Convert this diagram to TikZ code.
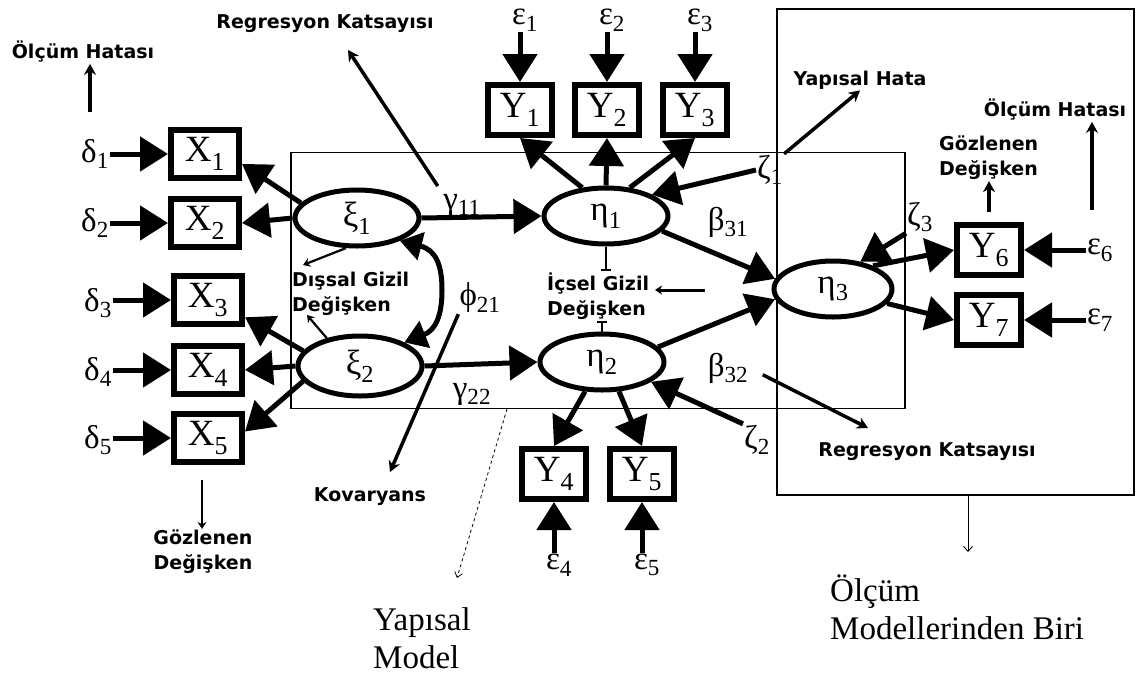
\documentclass[tikz,border=0pt]{standalone}
\usepackage{fontspec}
\setmainfont{Liberation Serif}
\newfontfamily\lblfont{DejaVu Sans}
\usetikzlibrary{arrows.meta,shapes.geometric,calc}
\begin{document}
\begin{tikzpicture}[x=1pt,y=-1pt,
  frame/.style={draw, line width=1.2pt, inner sep=0pt},
  obsx/.style={draw, line width=6pt, fill=white, minimum width=68pt, minimum height=48pt, inner sep=0pt, font=\fontsize{37}{38}\selectfont},
  obsy/.style={obsx, minimum width=64pt, minimum height=50pt},
  lat/.style={ellipse, draw, line width=5pt, fill=white, minimum width=124pt, minimum height=56pt, inner sep=0pt, font=\fontsize{35}{36}\selectfont},
  grk/.style={inner sep=1pt, font=\fontsize{33}{34}\selectfont},
  lbl/.style={font=\lblfont\bfseries\fontsize{19}{25}\selectfont, align=left, inner sep=1pt},
  serif/.style={font=\fontsize{33}{38}\selectfont, align=left, inner sep=0pt},
  big/.style={line width=5pt, -{Triangle[length=28pt,width=34pt]}},
  med/.style={line width=3.5pt, -{Stealth[length=11pt,width=12pt]}},
  sml/.style={line width=2.2pt, -{Stealth[length=7pt,width=9pt]}},
  tbar/.style={line width=2pt, -{Bar[width=10pt]}},
  dsh/.style={line width=0.8pt, dashed, -{Straight Barb[length=5pt,width=8pt]}},
  thn/.style={line width=0.9pt, -{Straight Barb[length=5pt,width=9pt]}},
]
\useasboundingbox (0,0) rectangle (1136,678);

% frames
\node[frame, minimum width=614pt, minimum height=256pt] (sbox) at (598,280.5) {};
\node[frame, minimum width=357pt, minimum height=486pt] (mbox) at (955.5,252) {};

% observed X
\node[obsx] (X1) at (205,154) {X\textsubscript{1}};
\node[obsx] (X2) at (205,223) {X\textsubscript{2}};
\node[obsx] (X3) at (208,300) {X\textsubscript{3}};
\node[obsx] (X4) at (208,370) {X\textsubscript{4}};
\node[obsx] (X5) at (208,438) {X\textsubscript{5}};
% observed Y
\node[obsy] (Y1) at (520,110) {Y\textsubscript{1}};
\node[obsy] (Y2) at (607,110) {Y\textsubscript{2}};
\node[obsy] (Y3) at (695,110) {Y\textsubscript{3}};
\node[obsy] (Y4) at (554,474) {Y\textsubscript{4}};
\node[obsy] (Y5) at (642,474) {Y\textsubscript{5}};
\node[obsy] (Y6) at (989,250) {Y\textsubscript{6}};
\node[obsy] (Y7) at (989,320) {Y\textsubscript{7}};

% latent
\node[lat] (xi1) at (357,218) {ξ\textsubscript{1}};
\node[lat, minimum height=60pt] (xi2) at (360,366) {ξ\textsubscript{2}};
\node[lat] (eta1) at (606,216) {η\textsubscript{1}};
\node[lat] (eta2) at (602,362) {η\textsubscript{2}};
\node[lat, minimum width=118pt] (eta3) at (833,289) {η\textsubscript{3}};

% error terms
\node[grk] (d1) at (95,154) {δ\textsubscript{1}};
\node[grk] (d2) at (95,223) {δ\textsubscript{2}};
\node[grk] (d3) at (98,303) {δ\textsubscript{3}};
\node[grk] (d4) at (98,372) {δ\textsubscript{4}};
\node[grk] (d5) at (98,440) {δ\textsubscript{5}};
\node[grk] (e1) at (525,20) {ε\textsubscript{1}};
\node[grk] (e2) at (612,20) {ε\textsubscript{2}};
\node[grk] (e3) at (700,20) {ε\textsubscript{3}};
\node[grk] (e4) at (559,565) {ε\textsubscript{4}};
\node[grk] (e5) at (647,565) {ε\textsubscript{5}};
\node[grk] (e6) at (1100,250) {ε\textsubscript{6}};
\node[grk] (e7) at (1100,320) {ε\textsubscript{7}};
\node[grk] (z1) at (770,170) {ζ\textsubscript{1}};
\node[grk] (z2) at (757,440) {ζ\textsubscript{2}};
\node[grk] (z3) at (920,217) {ζ\textsubscript{3}};

% coefficients
\node[grk] (g11) at (462,205) {γ\textsubscript{11}};
\node[grk] (g22) at (472,394) {γ\textsubscript{22}};
\node[grk] (phi) at (480,298) {ϕ\textsubscript{21}};
\node[grk] (b31) at (728,222) {β\textsubscript{31}};
\node[grk] (b32) at (728,368) {β\textsubscript{32}};

% annotation labels
\node[lbl] (rk1) at (325,24) {Regresyon Katsayısı};
\node[lbl] (oh1) at (83,52) {Ölçüm Hatası};
\node[lbl] (yh) at (860,80) {Yapısal Hata};
\node[lbl] (oh2) at (1055,110) {Ölçüm Hatası};
\node[lbl, anchor=west] (gd2) at (938,158) {Gözlenen\\Değişken};
\node[lbl, anchor=west] (dg) at (291,294) {Dışsal Gizil\\Değişken};
\node[lbl, anchor=west] (ig) at (546,296) {İçsel Gizil\\Değişken};
\node[lbl, align=center] (gd1) at (203,552) {Gözlenen\\Değişken};
\node[lbl] (kov) at (370,497) {Kovaryans};
\node[lbl] (rk2) at (927,452) {Regresyon Katsayısı};
\node[serif, anchor=west] (ym) at (373,638) {Yapısal\\Model};
\node[serif, anchor=west] (om) at (830,607) {Ölçüm\\Modellerinden Biri};

% free-end coordinates
\coordinate (oh1s) at (90,112);
\coordinate (gd1s) at (202,480);
\coordinate (oh2s) at (1092,210);
\coordinate (rk1t) at (348,50);
\coordinate (rk2t) at (868,428);
\coordinate (kovt) at (390,472);
\coordinate (dgt1) at (303,265);
\coordinate (dgt2) at (307,315);
\coordinate (igs) at (705,290);
\coordinate (igt) at (655,290);
\coordinate (yms) at (507,409);
\coordinate (ymt) at (457,578);
\coordinate (oms) at (968,495);
\coordinate (omt) at (968,552);

% delta -> X
\foreach \i in {1,...,5} \draw[big] (d\i.east |- X\i.west) -- (X\i.west);
% xi -> X
\draw[big] (xi1.165) -- (X1.-15);
\draw[big] (xi1.west) -- (X2.east);
\draw[big] (xi2.165) -- (X3.-25);
\draw[big] (xi2.west) -- (X4.east);
\draw[big] (xi2.195) -- (X5.10);
% covariance
\draw[line width=5pt, {Triangle[length=22pt,width=28pt]}-{Triangle[length=22pt,width=28pt]}]
  (xi1.-28) .. controls (436,250) and (442,265) .. (442,290)
  .. controls (442,315) and (436,330) .. (xi2.28);
% structural paths
\draw[big] (xi1.east) -- (eta1.west);
\draw[big] (xi2.east) -- (eta2.west);
\draw[big] (eta1.-15) -- (eta3.170);
\draw[big] (eta2.15) -- (eta3.190);
% eta1 -> Y
\draw[big] (eta1.130) -- (Y1.south);
\draw[big] (eta1.north) -- (Y2.south);
\draw[big] (eta1.50) -- (Y3.south);
\foreach \i in {1,2,3} \draw[big] (e\i.south -| Y\i.north) -- (Y\i.north);
% eta2 -> Y
\draw[big] (eta2.240) -- (Y4.north);
\draw[big] (eta2.300) -- (Y5.north);
\foreach \i in {4,5} \draw[big] (e\i.north -| Y\i.south) -- (Y\i.south);
% eta3 -> Y
\draw[big] (eta3.30) -- (Y6.west);
\draw[big] (eta3.-15) -- (Y7.west);
\foreach \i in {6,7} \draw[big] (e\i.west |- Y\i.east) -- (Y\i.east);
% disturbances
\draw[big] (z1.west) -- (eta1.25);
\draw[big] (z2.north west) -- (eta2.-22);
\draw[big] (z3.south west) -- (eta3.45);

% annotation arrows
\draw[med] (oh1s) -- (oh1s |- oh1.south);
\draw[sml] (gd1s) -- (gd1s |- gd1.north);
\draw[med, shorten <=10pt] (Y6.north) -- (Y6.north |- gd2.south);
\draw[med] (oh2s) -- (oh2s |- oh2.south);
\draw[med, shorten <=8pt] (g11.north west) -- (rk1t);
\draw[med] (z1.north east) -- (yh.south);
\draw[med, shorten <=15pt] (b32.east) -- (rk2t);
\draw[med] (phi.south west) -- (kovt);
\draw[sml] (xi1.250) -- (dgt1);
\draw[sml] (xi2.140) -- (dgt2);
\draw[tbar] (eta1.south) -- (eta1.south |- ig.north);
\draw[tbar] (eta2.north) -- (eta2.north |- ig.south);
\draw[sml, line width=3pt] (igs) -- (igt);
\draw[dsh] (yms) -- (ymt);
\draw[thn] (oms) -- (omt);
\end{tikzpicture}
\end{document}
